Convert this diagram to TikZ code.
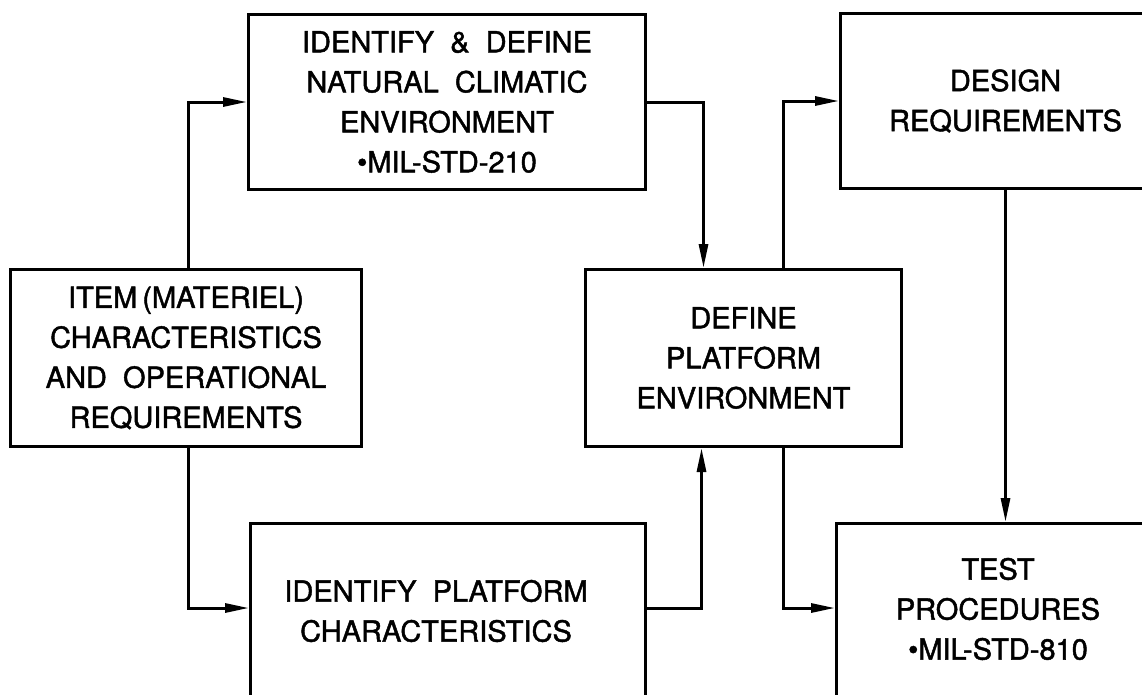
\documentclass[tikz,border=0pt]{standalone}
\usepackage{fontspec}
\setmainfont{TeX Gyre Heros}
\newfontfamily\lettr{TeX Gyre Heros}[FakeBold=1.5,WordSpace=2]
\usetikzlibrary{arrows.meta}
\begin{document}
\begin{tikzpicture}[x=1pt,y=-1pt,
  box/.style={draw=black,line width=3pt,rectangle,inner sep=0pt,anchor=north west,
    align=center,font=\lettr\fontsize{29}{40}\selectfont},
  txt/.style={inner sep=0pt,align=center,font=\lettr\fontsize{29}{40}\selectfont},
  arr/.style={draw=black,line width=3pt,-{Triangle[length=24pt,width=9pt]}}]
\fill[white] (0,0) rectangle (1142,694);
\clip (0,0) rectangle (1142,694);
\node[box,minimum width=351pt,minimum height=177pt] (item) at (9,268)
  {ITEM\hspace{5pt}(MATERIEL)\\CHARACTERISTICS\\AND OPERATIONAL\\REQUIREMENTS};
\node[box,minimum width=397pt,minimum height=175pt] (a) at (247,13)
  {IDENTIFY \& DEFINE\\NATURAL CLIMATIC\\ENVIRONMENT\\•MIL-STD-210};
\node[box,minimum width=316pt,minimum height=177pt] (dp) at (584,268)
  {DEFINE\\PLATFORM\\ENVIRONMENT};
\node[box,minimum width=330pt,minimum height=175pt] (design) at (839,12)
  {DESIGN\\REQUIREMENTS};
\node[box,minimum width=395pt,minimum height=200pt] (ip) at (249,522) {};
\node[txt] (ipt) at (436,611) {IDENTIFY PLATFORM\\CHARACTERISTICS};
\node[box,minimum width=340pt,minimum height=200pt] (test) at (835,522) {};
\node[txt] (testt) at (998,609) {TEST\\PROCEDURES\\•MIL-STD-810};
\coordinate (lowrow) at (0,608);
\draw[arr] ([xshift=2.5pt]item.north) |- (a.west);
\draw[arr] ([xshift=2.5pt]item.south) |- (ip.west |- lowrow);
\draw[arr] (a.east) -| ([xshift=-40pt]dp.north);
\draw[arr] (ip.east |- lowrow) -| ([xshift=-42pt]dp.south);
\draw[arr] ([xshift=40pt]dp.north) |- (design.west);
\draw[arr] ([xshift=40pt]dp.south) |- (test.west |- lowrow);
\draw[arr] (design.south) -- (design.south |- test.north);
\end{tikzpicture}
\end{document}
